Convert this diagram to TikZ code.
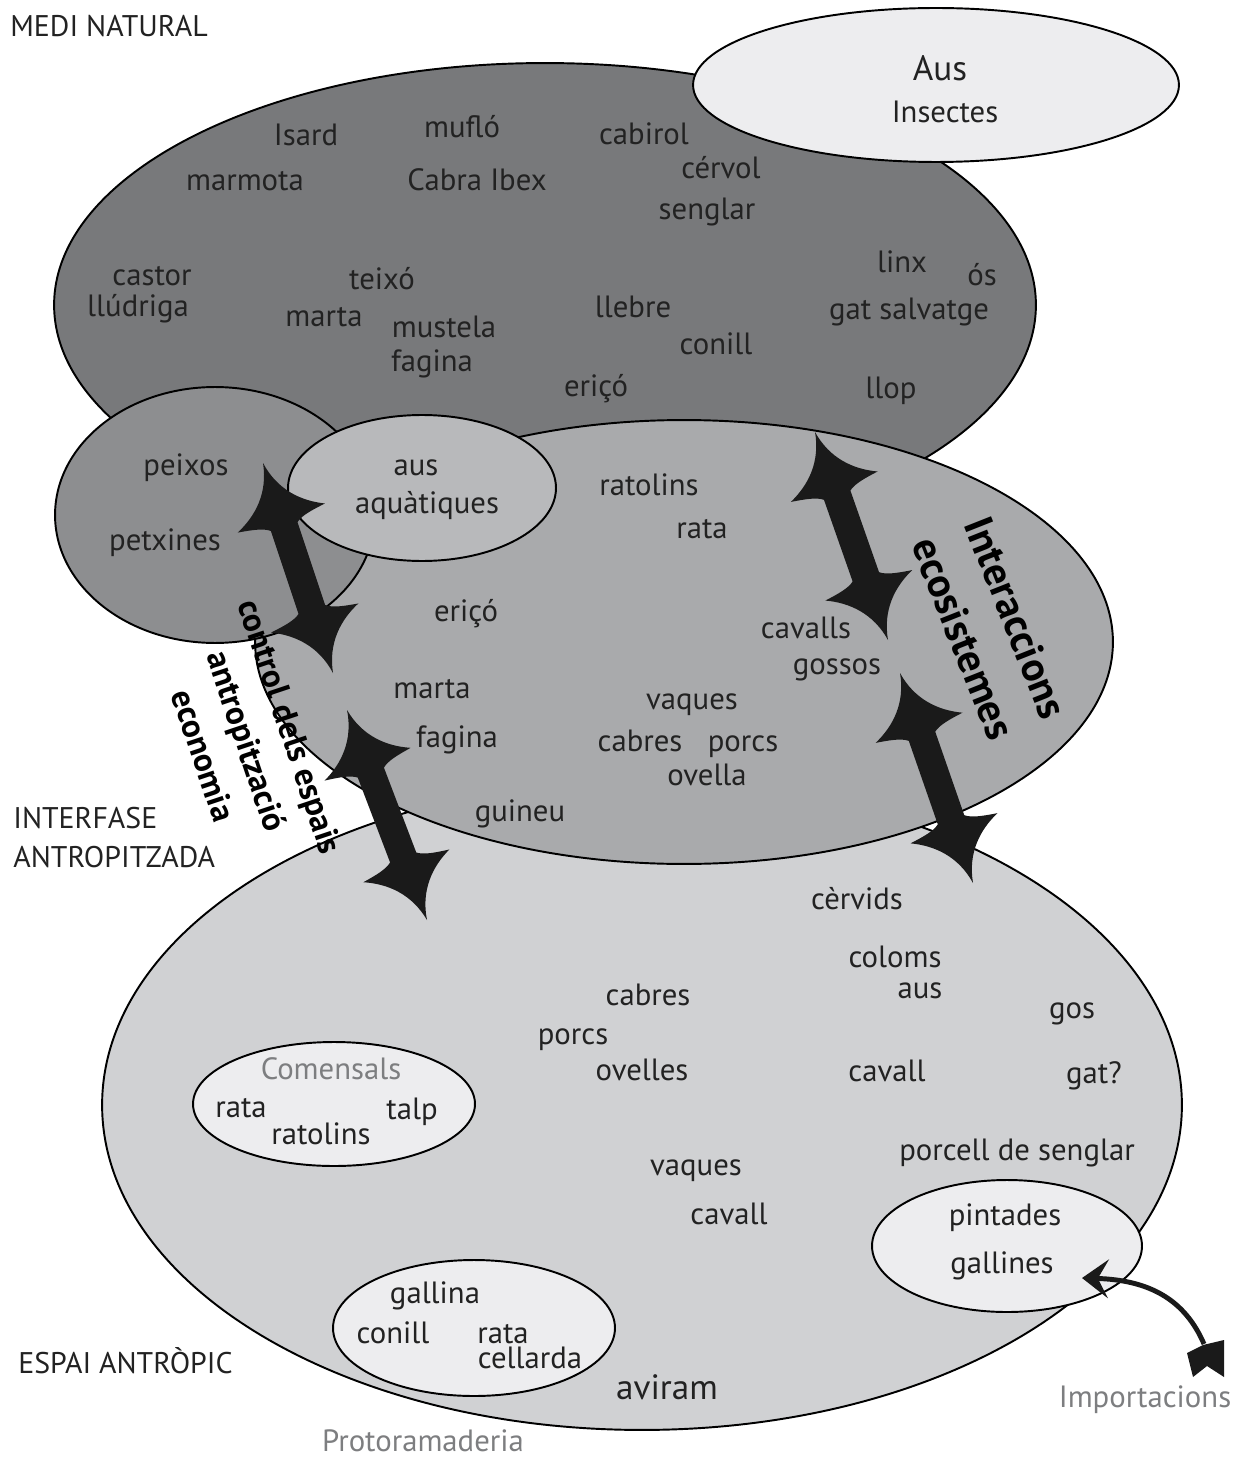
\documentclass[tikz,border=0pt]{standalone}
\usepackage{fontspec}
\setmainfont{PT Sans}
\usetikzlibrary{shapes.geometric,arrows.meta,calc}
\definecolor{cdark}{HTML}{78797B}
\definecolor{cfish}{HTML}{8D8E90}
\definecolor{cmid}{HTML}{A9AAAC}
\definecolor{caq}{HTML}{B8B9BB}
\definecolor{cbot}{HTML}{D0D1D3}
\definecolor{clight}{HTML}{EDEDEF}
\definecolor{ctxt}{HTML}{222222}
\definecolor{cgray}{HTML}{7D7E80}
\definecolor{carrow}{HTML}{1A1A1A}
\newcommand\dblarr[2]{%
  \path (#1); \pgfgetlastxy{\dax}{\day}%
  \path (#2); \pgfgetlastxy{\dbx}{\dby}%
  \pgfmathsetmacro\dang{atan2(\dby-\day,\dbx-\dax)}%
  \pgfmathsetmacro\dlen{veclen(\dbx-\dax,\dby-\day)/0.569055}%
  \begin{scope}[shift={(#1)}, rotate=\dang]
    \fill[carrow] (0,0)
      .. controls (30,-5) and (48,-24) .. (58,-46)
      .. controls (60,-32) and (62,-20) .. (67,-14)
      -- (\dlen-67,-14)
      .. controls (\dlen-62,-20) and (\dlen-60,-32) .. (\dlen-58,-46)
      .. controls (\dlen-48,-24) and (\dlen-30,-5) .. (\dlen,0)
      .. controls (\dlen-30,5) and (\dlen-48,24) .. (\dlen-58,46)
      .. controls (\dlen-60,32) and (\dlen-62,20) .. (\dlen-67,14)
      -- (67,14)
      .. controls (62,20) and (60,32) .. (58,46)
      .. controls (48,24) and (30,5) .. (0,0) -- cycle;
  \end{scope}}
\begin{document}
\begin{tikzpicture}[x=0.02cm,y=-0.02cm,
  every node/.style={inner sep=0pt},
  regn/.style={ellipse, draw=black, line width=1.1pt, inner sep=0pt},
  anm/.style={anchor=base, yshift=-6pt, text=ctxt, font=\fontsize{17.5}{20}\selectfont},
  bigt/.style={anm, yshift=-6.5pt, font=\fontsize{20}{23}\selectfont},
  grt/.style={anm, text=cgray},
  seclbl/.style={anchor=base west, yshift=-6.5pt, text=ctxt, font=\fontsize{17}{20}\selectfont},
  rott/.style={align=center, text=black, font=\bfseries\fontsize{19}{26}\selectfont}
]
\useasboundingbox (0,0) rectangle (1236,1459);

% regions
\node[regn, fill=cbot, minimum width=21.6cm, minimum height=13.0cm] (antropic) at (642,1105) {};
\node[regn, fill=cdark, minimum width=19.64cm, minimum height=9.68cm] (natural) at (545,305) {};
\node[regn, fill=cmid, minimum width=17.16cm, minimum height=8.88cm] (interf) at (684,642) {};
\node[regn, fill=cfish, minimum width=6.4cm, minimum height=5.12cm] (aigua) at (215,515) {};
\node[regn, fill=caq, minimum width=5.36cm, minimum height=2.92cm] (aquat) at (422,488) {};
\node[regn, fill=clight, minimum width=9.72cm, minimum height=3.08cm] (ausell) at (936,85) {};
\node[regn, fill=clight, minimum width=5.64cm, minimum height=2.48cm] (comens) at (334,1104) {};
\node[regn, fill=clight, minimum width=5.64cm, minimum height=2.72cm] (aviell) at (474,1328) {};
\node[regn, fill=clight, minimum width=5.4cm, minimum height=2.64cm] (pintell) at (1007,1246) {};

% section labels
\node[seclbl] (l1) at (10,25) {MEDI NATURAL};
\node[seclbl] (l2) at (13,817) {INTERFASE};
\node[seclbl] (l3) at (13,856) {ANTROPITZADA};
\node[seclbl] (l4) at (18,1362) {ESPAI ANTRÒPIC};

% medi natural
\node[bigt] (t1) at (940,59) {Aus};
\node[anm] (t2) at (945,112) {Insectes};
\node[anm] (t3) at (306,135) {Isard};
\node[anm] (t4) at (462,127) {mufló};
\node[anm] (t5) at (644,134) {cabirol};
\node[anm] (t6) at (245,180) {marmota};
\node[anm] (t7) at (477,180) {Cabra Ibex};
\node[anm] (t8) at (721,168) {cérvol};
\node[anm] (t9) at (707,209) {senglar};
\node[anm] (t10) at (152,275) {castor};
\node[anm] (t11) at (382,279) {teixó};
\node[anm] (t12) at (902,262) {linx};
\node[anm] (t13) at (982,275) {ós};
\node[anm] (t14) at (138,306) {llúdriga};
\node[anm] (t15) at (324,316) {marta};
\node[anm] (t16) at (444,327) {mustela};
\node[anm] (t17) at (633,307) {llebre};
\node[anm] (t18) at (909,309) {gat salvatge};
\node[anm] (t19) at (432,361) {fagina};
\node[anm] (t20) at (716,344) {conill};
\node[anm] (t21) at (596,386) {eriçó};
\node[anm] (t22) at (891,388) {llop};

% interfase
\node[anm] (u1) at (186,465) {peixos};
\node[anm] (u2) at (165,540) {petxines};
\node[anm] (u3) at (416,465) {aus};
\node[anm] (u4) at (427,503) {aquàtiques};
\node[anm] (u5) at (649,485) {ratolins};
\node[anm] (u6) at (702,528) {rata};
\node[anm] (u7) at (466,611) {eriçó};
\node[anm] (u8) at (806,628) {cavalls};
\node[anm] (u9) at (837,664) {gossos};
\node[anm] (u10) at (432,688) {marta};
\node[anm] (u11) at (692,699) {vaques};
\node[anm] (u12) at (457,737) {fagina};
\node[anm] (u13) at (640,741) {cabres};
\node[anm] (u14) at (743,741) {porcs};
\node[anm] (u15) at (707,775) {ovella};
\node[anm] (u16) at (520,811) {guineu};

% espai antropic
\node[anm] (v1) at (857,899) {cèrvids};
\node[anm] (v2) at (895,957) {coloms};
\node[anm] (v3) at (920,988) {aus};
\node[anm] (v4) at (648,995) {cabres};
\node[anm] (v5) at (1072,1008) {gos};
\node[anm] (v6) at (573,1034) {porcs};
\node[anm] (v7) at (642,1070) {ovelles};
\node[anm] (v8) at (887,1071) {cavall};
\node[anm] (v9) at (1094,1073) {gat?};
\node[grt] (v10) at (331,1069) {Comensals};
\node[anm] (v11) at (241,1107) {rata};
\node[anm] (v12) at (412,1109) {talp};
\node[anm] (v13) at (321,1134) {ratolins};
\node[anm] (v14) at (1017,1150) {porcell de senglar};
\node[anm] (v15) at (696,1165) {vaques};
\node[anm] (v16) at (1005,1215) {pintades};
\node[anm] (v17) at (729,1214) {cavall};
\node[anm] (v18) at (1002,1263) {gallines};
\node[anm] (v19) at (435,1293) {gallina};
\node[anm] (v20) at (393,1333) {conill};
\node[anm] (v21) at (503,1333) {rata};
\node[anm] (v22) at (530,1358) {cellarda};
\node[bigt] (v23) at (667,1378) {aviram};
\node[grt] (v24) at (1145,1397) {Importacions};
\node[grt] (v25) at (423,1441) {Protoramaderia};

% rotated labels
\node[rott, rotate=-71.5] (ctrl) at (247,741) {control dels espais\\antropització\\economia};
\node[rott, rotate=-68.4, font=\bfseries\fontsize{23.5}{32}\selectfont] (inter) at (990,628) {Interaccions\\ecosistemes};

% double arrows
\coordinate (a1) at (263,463); \coordinate (b1) at (333,673);
\coordinate (a2) at (347,710); \coordinate (b2) at (427,920);
\coordinate (a3) at (815,432); \coordinate (b3) at (888,640);
\coordinate (a4) at (900,673); \coordinate (b4) at (973,883);
\dblarr{a1}{b1}
\dblarr{a2}{b2}
\dblarr{a3}{b3}
\dblarr{a4}{b4}

% importacions arrow
\coordinate (imptail) at (1204,1344);
\coordinate (imptip) at (1082,1278);
\draw[carrow, line width=2.8pt, -{Stealth[length=15pt,width=22pt,inset=6pt]}]
  (imptail) .. controls (1185,1300) and (1150,1280) .. (imptip);
\fill[carrow] (1187,1353) -- (1193,1377) -- (1207,1366) -- (1224,1377)
  -- (1224,1340) -- (1203,1345) -- cycle;
\end{tikzpicture}
\end{document}
